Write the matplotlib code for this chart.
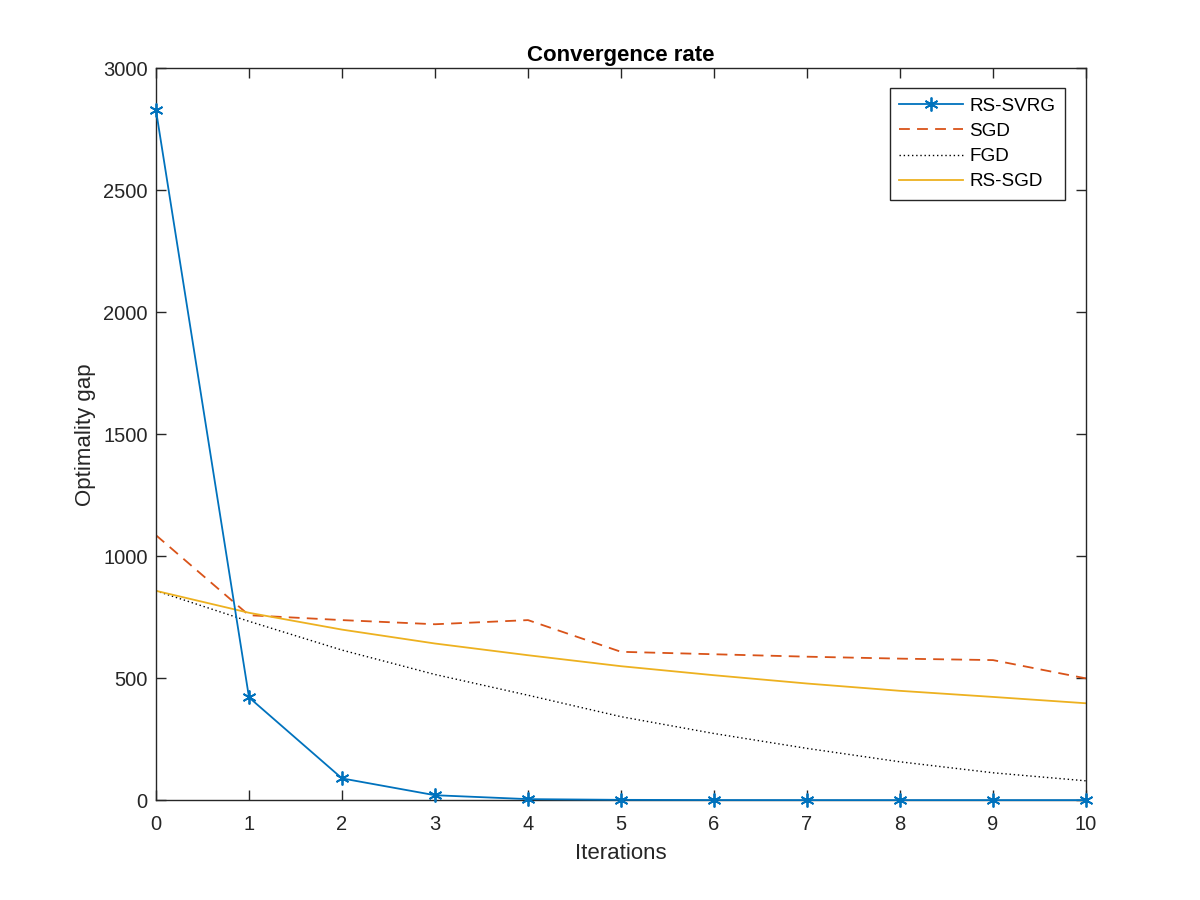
import matplotlib.pyplot as plt
import numpy as np

plt.rcParams['font.family'] = ['Liberation Sans', 'DejaVu Sans']

iters = np.arange(0, 11)
rs_svrg = [2828, 421, 89, 20, 4, 1, 0.3, 0.1, 0.05, 0.02, 0.01]
sgd = [1086, 758, 738, 721, 738, 608, 598, 588, 580, 574, 499]
fgd = [858, 733, 615, 515, 430, 342, 273, 212, 157, 112, 79]
rs_sgd = [858, 768, 699, 642, 594, 549, 512, 478, 448, 423, 397]

dark = (0.15, 0.15, 0.15)

fig = plt.figure(figsize=(12, 9), dpi=100)
ax = fig.add_axes([0.13, 0.111, 0.775, 0.813])

ax.plot(iters, rs_svrg, color=(0, 0.447, 0.741), marker=(6, 2, 0), markersize=10,
        markeredgewidth=1.3, lw=1.3, label='RS-SVRG', clip_on=False, zorder=3)
ax.plot(iters, sgd, color=(0.85, 0.325, 0.098), ls=(0, (6, 4)), lw=1.3, label='SGD')
ax.plot(iters, fgd, color='black', ls=(0, (1, 2)), lw=1.0, label='FGD')
ax.plot(iters, rs_sgd, color=(0.929, 0.694, 0.125), lw=1.3, label='RS-SGD')

ax.set_xlim(0, 10)
ax.set_ylim(0, 3000)
ax.set_xticks(range(0, 11))
ax.set_yticks(range(0, 3001, 500))
ax.tick_params(direction='in', top=True, right=True, labelsize=14.5,
               colors=dark, length=7, width=1.0)
ax.tick_params(axis='x', pad=10.5)
ax.tick_params(axis='y', pad=6)
for s in ax.spines.values():
    s.set_color(dark)
    s.set_linewidth(1.0)

ax.set_xlabel('Iterations', fontsize=16, color=dark, labelpad=7)
ax.set_ylabel('Optimality gap', fontsize=16, color=dark, labelpad=5)
ax.set_title('Convergence rate', fontsize=16, fontweight='bold', pad=5)

leg = ax.legend(loc='upper right', fontsize=13.6, fancybox=False,
                edgecolor=dark, framealpha=1, borderpad=0.5, labelspacing=0.42,
                bbox_to_anchor=(0.977, 0.973), borderaxespad=0,
                handlelength=3.4, handletextpad=0.3)
leg.get_frame().set_linewidth(1.0)

fig.savefig('out.png', dpi=100, facecolor='white')
